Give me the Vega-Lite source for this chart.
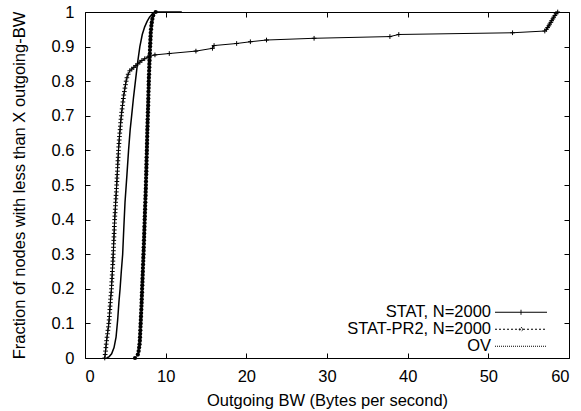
{
  "$schema": "https://vega.github.io/schema/vega-lite/v6.json",
  "width": 484,
  "height": 346,
  "autosize": "none",
  "padding": {"left": 85, "top": 12, "right": 12, "bottom": 53},
  "background": "white",
  "config": {
    "font": "Liberation Sans",
    "view": {"stroke": "black", "strokeWidth": 1},
    "axis": {"grid": false, "domain": false, "tickColor": "black", "tickSize": -5, "labelColor": "black", "labelFontSize": 16.5, "titleFontSize": 16.5, "titleFontWeight": "normal", "titleColor": "black", "labelFont": "Liberation Sans", "titleFont": "Liberation Sans"}
  },
  "datasets": {
    "cdf": [
      {"series": "OV", "bw": 2.7, "frac": 0},
      {"series": "OV", "bw": 3.0, "frac": 0.004},
      {"series": "OV", "bw": 3.3, "frac": 0.012},
      {"series": "OV", "bw": 3.6, "frac": 0.03},
      {"series": "OV", "bw": 3.85, "frac": 0.06},
      {"series": "OV", "bw": 4.05, "frac": 0.11},
      {"series": "OV", "bw": 4.2, "frac": 0.16},
      {"series": "OV", "bw": 4.35, "frac": 0.2},
      {"series": "OV", "bw": 4.5, "frac": 0.25},
      {"series": "OV", "bw": 4.67, "frac": 0.3},
      {"series": "OV", "bw": 4.8, "frac": 0.37},
      {"series": "OV", "bw": 4.96, "frac": 0.45},
      {"series": "OV", "bw": 5.2, "frac": 0.53},
      {"series": "OV", "bw": 5.4, "frac": 0.6},
      {"series": "OV", "bw": 5.6, "frac": 0.66},
      {"series": "OV", "bw": 5.78, "frac": 0.7},
      {"series": "OV", "bw": 6.0, "frac": 0.75},
      {"series": "OV", "bw": 6.2, "frac": 0.79},
      {"series": "OV", "bw": 6.5, "frac": 0.85},
      {"series": "OV", "bw": 6.8, "frac": 0.9},
      {"series": "OV", "bw": 7.1, "frac": 0.935},
      {"series": "OV", "bw": 7.4, "frac": 0.957},
      {"series": "OV", "bw": 7.7, "frac": 0.973},
      {"series": "OV", "bw": 8.0, "frac": 0.985},
      {"series": "OV", "bw": 8.35, "frac": 0.995},
      {"series": "OV", "bw": 8.7, "frac": 1.0},
      {"series": "OV", "bw": 12.0, "frac": 1.0},

      {"series": "STAT, N=2000", "bw": 2.45, "frac": 0.0},
      {"series": "STAT, N=2000", "bw": 2.50, "frac": 0.01},
      {"series": "STAT, N=2000", "bw": 2.55, "frac": 0.02},
      {"series": "STAT, N=2000", "bw": 2.59, "frac": 0.03},
      {"series": "STAT, N=2000", "bw": 2.63, "frac": 0.04},
      {"series": "STAT, N=2000", "bw": 2.68, "frac": 0.05},
      {"series": "STAT, N=2000", "bw": 2.73, "frac": 0.06},
      {"series": "STAT, N=2000", "bw": 2.79, "frac": 0.07},
      {"series": "STAT, N=2000", "bw": 2.84, "frac": 0.08},
      {"series": "STAT, N=2000", "bw": 2.90, "frac": 0.09},
      {"series": "STAT, N=2000", "bw": 2.95, "frac": 0.10},
      {"series": "STAT, N=2000", "bw": 2.99, "frac": 0.11},
      {"series": "STAT, N=2000", "bw": 3.02, "frac": 0.12},
      {"series": "STAT, N=2000", "bw": 3.05, "frac": 0.13},
      {"series": "STAT, N=2000", "bw": 3.08, "frac": 0.14},
      {"series": "STAT, N=2000", "bw": 3.11, "frac": 0.15},
      {"series": "STAT, N=2000", "bw": 3.14, "frac": 0.16},
      {"series": "STAT, N=2000", "bw": 3.17, "frac": 0.17},
      {"series": "STAT, N=2000", "bw": 3.21, "frac": 0.18},
      {"series": "STAT, N=2000", "bw": 3.25, "frac": 0.19},
      {"series": "STAT, N=2000", "bw": 3.28, "frac": 0.20},
      {"series": "STAT, N=2000", "bw": 3.30, "frac": 0.21},
      {"series": "STAT, N=2000", "bw": 3.32, "frac": 0.22},
      {"series": "STAT, N=2000", "bw": 3.35, "frac": 0.23},
      {"series": "STAT, N=2000", "bw": 3.37, "frac": 0.24},
      {"series": "STAT, N=2000", "bw": 3.39, "frac": 0.25},
      {"series": "STAT, N=2000", "bw": 3.41, "frac": 0.26},
      {"series": "STAT, N=2000", "bw": 3.44, "frac": 0.27},
      {"series": "STAT, N=2000", "bw": 3.46, "frac": 0.28},
      {"series": "STAT, N=2000", "bw": 3.48, "frac": 0.29},
      {"series": "STAT, N=2000", "bw": 3.50, "frac": 0.30},
      {"series": "STAT, N=2000", "bw": 3.52, "frac": 0.31},
      {"series": "STAT, N=2000", "bw": 3.54, "frac": 0.32},
      {"series": "STAT, N=2000", "bw": 3.55, "frac": 0.33},
      {"series": "STAT, N=2000", "bw": 3.57, "frac": 0.34},
      {"series": "STAT, N=2000", "bw": 3.59, "frac": 0.35},
      {"series": "STAT, N=2000", "bw": 3.61, "frac": 0.36},
      {"series": "STAT, N=2000", "bw": 3.63, "frac": 0.37},
      {"series": "STAT, N=2000", "bw": 3.64, "frac": 0.38},
      {"series": "STAT, N=2000", "bw": 3.66, "frac": 0.39},
      {"series": "STAT, N=2000", "bw": 3.68, "frac": 0.40},
      {"series": "STAT, N=2000", "bw": 3.70, "frac": 0.41},
      {"series": "STAT, N=2000", "bw": 3.73, "frac": 0.42},
      {"series": "STAT, N=2000", "bw": 3.75, "frac": 0.43},
      {"series": "STAT, N=2000", "bw": 3.78, "frac": 0.44},
      {"series": "STAT, N=2000", "bw": 3.80, "frac": 0.45},
      {"series": "STAT, N=2000", "bw": 3.83, "frac": 0.46},
      {"series": "STAT, N=2000", "bw": 3.85, "frac": 0.47},
      {"series": "STAT, N=2000", "bw": 3.88, "frac": 0.48},
      {"series": "STAT, N=2000", "bw": 3.90, "frac": 0.49},
      {"series": "STAT, N=2000", "bw": 3.93, "frac": 0.50},
      {"series": "STAT, N=2000", "bw": 3.95, "frac": 0.51},
      {"series": "STAT, N=2000", "bw": 3.97, "frac": 0.52},
      {"series": "STAT, N=2000", "bw": 3.99, "frac": 0.53},
      {"series": "STAT, N=2000", "bw": 4.02, "frac": 0.54},
      {"series": "STAT, N=2000", "bw": 4.04, "frac": 0.55},
      {"series": "STAT, N=2000", "bw": 4.06, "frac": 0.56},
      {"series": "STAT, N=2000", "bw": 4.08, "frac": 0.57},
      {"series": "STAT, N=2000", "bw": 4.11, "frac": 0.58},
      {"series": "STAT, N=2000", "bw": 4.13, "frac": 0.59},
      {"series": "STAT, N=2000", "bw": 4.15, "frac": 0.60},
      {"series": "STAT, N=2000", "bw": 4.18, "frac": 0.61},
      {"series": "STAT, N=2000", "bw": 4.21, "frac": 0.62},
      {"series": "STAT, N=2000", "bw": 4.24, "frac": 0.63},
      {"series": "STAT, N=2000", "bw": 4.27, "frac": 0.64},
      {"series": "STAT, N=2000", "bw": 4.31, "frac": 0.65},
      {"series": "STAT, N=2000", "bw": 4.35, "frac": 0.66},
      {"series": "STAT, N=2000", "bw": 4.38, "frac": 0.67},
      {"series": "STAT, N=2000", "bw": 4.42, "frac": 0.68},
      {"series": "STAT, N=2000", "bw": 4.46, "frac": 0.69},
      {"series": "STAT, N=2000", "bw": 4.50, "frac": 0.70},
      {"series": "STAT, N=2000", "bw": 4.55, "frac": 0.71},
      {"series": "STAT, N=2000", "bw": 4.60, "frac": 0.72},
      {"series": "STAT, N=2000", "bw": 4.65, "frac": 0.73},
      {"series": "STAT, N=2000", "bw": 4.70, "frac": 0.74},
      {"series": "STAT, N=2000", "bw": 4.75, "frac": 0.75},
      {"series": "STAT, N=2000", "bw": 4.81, "frac": 0.76},
      {"series": "STAT, N=2000", "bw": 4.88, "frac": 0.77},
      {"series": "STAT, N=2000", "bw": 4.95, "frac": 0.78},
      {"series": "STAT, N=2000", "bw": 5.02, "frac": 0.79},
      {"series": "STAT, N=2000", "bw": 5.10, "frac": 0.80},
      {"series": "STAT, N=2000", "bw": 5.20, "frac": 0.81},
      {"series": "STAT, N=2000", "bw": 5.35, "frac": 0.82},
      {"series": "STAT, N=2000", "bw": 5.55, "frac": 0.83},
      {"series": "STAT, N=2000", "bw": 5.80, "frac": 0.835},
      {"series": "STAT, N=2000", "bw": 6.05, "frac": 0.84},
      {"series": "STAT, N=2000", "bw": 6.30, "frac": 0.845},
      {"series": "STAT, N=2000", "bw": 6.55, "frac": 0.85},
      {"series": "STAT, N=2000", "bw": 6.80, "frac": 0.855},
      {"series": "STAT, N=2000", "bw": 7.05, "frac": 0.86},
      {"series": "STAT, N=2000", "bw": 7.40, "frac": 0.865},
      {"series": "STAT, N=2000", "bw": 7.80, "frac": 0.87},
      {"series": "STAT, N=2000", "bw": 8.67, "frac": 0.876},
      {"series": "STAT, N=2000", "bw": 10.45, "frac": 0.88},
      {"series": "STAT, N=2000", "bw": 13.75, "frac": 0.887},
      {"series": "STAT, N=2000", "bw": 15.8, "frac": 0.895},
      {"series": "STAT, N=2000", "bw": 16.0, "frac": 0.903},
      {"series": "STAT, N=2000", "bw": 18.8, "frac": 0.909},
      {"series": "STAT, N=2000", "bw": 20.5, "frac": 0.914},
      {"series": "STAT, N=2000", "bw": 22.5, "frac": 0.919},
      {"series": "STAT, N=2000", "bw": 28.4, "frac": 0.924},
      {"series": "STAT, N=2000", "bw": 37.8, "frac": 0.929},
      {"series": "STAT, N=2000", "bw": 38.9, "frac": 0.935},
      {"series": "STAT, N=2000", "bw": 53.0, "frac": 0.94},
      {"series": "STAT, N=2000", "bw": 57.0, "frac": 0.945},
      {"series": "STAT, N=2000", "bw": 57.2, "frac": 0.95},
      {"series": "STAT, N=2000", "bw": 57.35, "frac": 0.955},
      {"series": "STAT, N=2000", "bw": 57.5, "frac": 0.96},
      {"series": "STAT, N=2000", "bw": 57.6, "frac": 0.965},
      {"series": "STAT, N=2000", "bw": 57.75, "frac": 0.97},
      {"series": "STAT, N=2000", "bw": 57.85, "frac": 0.975},
      {"series": "STAT, N=2000", "bw": 58.0, "frac": 0.98},
      {"series": "STAT, N=2000", "bw": 58.1, "frac": 0.985},
      {"series": "STAT, N=2000", "bw": 58.25, "frac": 0.99},
      {"series": "STAT, N=2000", "bw": 58.4, "frac": 0.995},
      {"series": "STAT, N=2000", "bw": 58.6, "frac": 1.0},

      {"series": "STAT-PR2, N=2000", "bw": 6.20, "frac": 0.0},
      {"series": "STAT-PR2, N=2000", "bw": 6.55, "frac": 0.01},
      {"series": "STAT-PR2, N=2000", "bw": 6.65, "frac": 0.02},
      {"series": "STAT-PR2, N=2000", "bw": 6.71, "frac": 0.03},
      {"series": "STAT-PR2, N=2000", "bw": 6.76, "frac": 0.04},
      {"series": "STAT-PR2, N=2000", "bw": 6.80, "frac": 0.05},
      {"series": "STAT-PR2, N=2000", "bw": 6.82, "frac": 0.06},
      {"series": "STAT-PR2, N=2000", "bw": 6.84, "frac": 0.07},
      {"series": "STAT-PR2, N=2000", "bw": 6.86, "frac": 0.08},
      {"series": "STAT-PR2, N=2000", "bw": 6.88, "frac": 0.09},
      {"series": "STAT-PR2, N=2000", "bw": 6.90, "frac": 0.10},
      {"series": "STAT-PR2, N=2000", "bw": 6.92, "frac": 0.11},
      {"series": "STAT-PR2, N=2000", "bw": 6.94, "frac": 0.12},
      {"series": "STAT-PR2, N=2000", "bw": 6.96, "frac": 0.13},
      {"series": "STAT-PR2, N=2000", "bw": 6.98, "frac": 0.14},
      {"series": "STAT-PR2, N=2000", "bw": 7.00, "frac": 0.15},
      {"series": "STAT-PR2, N=2000", "bw": 7.02, "frac": 0.16},
      {"series": "STAT-PR2, N=2000", "bw": 7.03, "frac": 0.17},
      {"series": "STAT-PR2, N=2000", "bw": 7.05, "frac": 0.18},
      {"series": "STAT-PR2, N=2000", "bw": 7.07, "frac": 0.19},
      {"series": "STAT-PR2, N=2000", "bw": 7.08, "frac": 0.20},
      {"series": "STAT-PR2, N=2000", "bw": 7.10, "frac": 0.21},
      {"series": "STAT-PR2, N=2000", "bw": 7.12, "frac": 0.22},
      {"series": "STAT-PR2, N=2000", "bw": 7.13, "frac": 0.23},
      {"series": "STAT-PR2, N=2000", "bw": 7.15, "frac": 0.24},
      {"series": "STAT-PR2, N=2000", "bw": 7.17, "frac": 0.25},
      {"series": "STAT-PR2, N=2000", "bw": 7.18, "frac": 0.26},
      {"series": "STAT-PR2, N=2000", "bw": 7.20, "frac": 0.27},
      {"series": "STAT-PR2, N=2000", "bw": 7.22, "frac": 0.28},
      {"series": "STAT-PR2, N=2000", "bw": 7.23, "frac": 0.29},
      {"series": "STAT-PR2, N=2000", "bw": 7.25, "frac": 0.30},
      {"series": "STAT-PR2, N=2000", "bw": 7.27, "frac": 0.31},
      {"series": "STAT-PR2, N=2000", "bw": 7.28, "frac": 0.32},
      {"series": "STAT-PR2, N=2000", "bw": 7.30, "frac": 0.33},
      {"series": "STAT-PR2, N=2000", "bw": 7.31, "frac": 0.34},
      {"series": "STAT-PR2, N=2000", "bw": 7.33, "frac": 0.35},
      {"series": "STAT-PR2, N=2000", "bw": 7.34, "frac": 0.36},
      {"series": "STAT-PR2, N=2000", "bw": 7.36, "frac": 0.37},
      {"series": "STAT-PR2, N=2000", "bw": 7.37, "frac": 0.38},
      {"series": "STAT-PR2, N=2000", "bw": 7.39, "frac": 0.39},
      {"series": "STAT-PR2, N=2000", "bw": 7.40, "frac": 0.40},
      {"series": "STAT-PR2, N=2000", "bw": 7.42, "frac": 0.41},
      {"series": "STAT-PR2, N=2000", "bw": 7.43, "frac": 0.42},
      {"series": "STAT-PR2, N=2000", "bw": 7.45, "frac": 0.43},
      {"series": "STAT-PR2, N=2000", "bw": 7.46, "frac": 0.44},
      {"series": "STAT-PR2, N=2000", "bw": 7.48, "frac": 0.45},
      {"series": "STAT-PR2, N=2000", "bw": 7.49, "frac": 0.46},
      {"series": "STAT-PR2, N=2000", "bw": 7.51, "frac": 0.47},
      {"series": "STAT-PR2, N=2000", "bw": 7.52, "frac": 0.48},
      {"series": "STAT-PR2, N=2000", "bw": 7.54, "frac": 0.49},
      {"series": "STAT-PR2, N=2000", "bw": 7.55, "frac": 0.50},
      {"series": "STAT-PR2, N=2000", "bw": 7.56, "frac": 0.51},
      {"series": "STAT-PR2, N=2000", "bw": 7.57, "frac": 0.52},
      {"series": "STAT-PR2, N=2000", "bw": 7.59, "frac": 0.53},
      {"series": "STAT-PR2, N=2000", "bw": 7.60, "frac": 0.54},
      {"series": "STAT-PR2, N=2000", "bw": 7.61, "frac": 0.55},
      {"series": "STAT-PR2, N=2000", "bw": 7.62, "frac": 0.56},
      {"series": "STAT-PR2, N=2000", "bw": 7.63, "frac": 0.57},
      {"series": "STAT-PR2, N=2000", "bw": 7.64, "frac": 0.58},
      {"series": "STAT-PR2, N=2000", "bw": 7.66, "frac": 0.59},
      {"series": "STAT-PR2, N=2000", "bw": 7.67, "frac": 0.60},
      {"series": "STAT-PR2, N=2000", "bw": 7.68, "frac": 0.61},
      {"series": "STAT-PR2, N=2000", "bw": 7.69, "frac": 0.62},
      {"series": "STAT-PR2, N=2000", "bw": 7.70, "frac": 0.63},
      {"series": "STAT-PR2, N=2000", "bw": 7.71, "frac": 0.64},
      {"series": "STAT-PR2, N=2000", "bw": 7.72, "frac": 0.65},
      {"series": "STAT-PR2, N=2000", "bw": 7.73, "frac": 0.66},
      {"series": "STAT-PR2, N=2000", "bw": 7.75, "frac": 0.67},
      {"series": "STAT-PR2, N=2000", "bw": 7.76, "frac": 0.68},
      {"series": "STAT-PR2, N=2000", "bw": 7.77, "frac": 0.69},
      {"series": "STAT-PR2, N=2000", "bw": 7.79, "frac": 0.70},
      {"series": "STAT-PR2, N=2000", "bw": 7.80, "frac": 0.71},
      {"series": "STAT-PR2, N=2000", "bw": 7.81, "frac": 0.72},
      {"series": "STAT-PR2, N=2000", "bw": 7.83, "frac": 0.73},
      {"series": "STAT-PR2, N=2000", "bw": 7.84, "frac": 0.74},
      {"series": "STAT-PR2, N=2000", "bw": 7.85, "frac": 0.75},
      {"series": "STAT-PR2, N=2000", "bw": 7.86, "frac": 0.76},
      {"series": "STAT-PR2, N=2000", "bw": 7.87, "frac": 0.77},
      {"series": "STAT-PR2, N=2000", "bw": 7.89, "frac": 0.78},
      {"series": "STAT-PR2, N=2000", "bw": 7.90, "frac": 0.79},
      {"series": "STAT-PR2, N=2000", "bw": 7.91, "frac": 0.80},
      {"series": "STAT-PR2, N=2000", "bw": 7.92, "frac": 0.81},
      {"series": "STAT-PR2, N=2000", "bw": 7.94, "frac": 0.82},
      {"series": "STAT-PR2, N=2000", "bw": 7.95, "frac": 0.83},
      {"series": "STAT-PR2, N=2000", "bw": 7.97, "frac": 0.84},
      {"series": "STAT-PR2, N=2000", "bw": 7.98, "frac": 0.85},
      {"series": "STAT-PR2, N=2000", "bw": 8.00, "frac": 0.86},
      {"series": "STAT-PR2, N=2000", "bw": 8.02, "frac": 0.87},
      {"series": "STAT-PR2, N=2000", "bw": 8.04, "frac": 0.88},
      {"series": "STAT-PR2, N=2000", "bw": 8.05, "frac": 0.89},
      {"series": "STAT-PR2, N=2000", "bw": 8.07, "frac": 0.90},
      {"series": "STAT-PR2, N=2000", "bw": 8.09, "frac": 0.91},
      {"series": "STAT-PR2, N=2000", "bw": 8.11, "frac": 0.92},
      {"series": "STAT-PR2, N=2000", "bw": 8.13, "frac": 0.93},
      {"series": "STAT-PR2, N=2000", "bw": 8.15, "frac": 0.94},
      {"series": "STAT-PR2, N=2000", "bw": 8.19, "frac": 0.95},
      {"series": "STAT-PR2, N=2000", "bw": 8.23, "frac": 0.96},
      {"series": "STAT-PR2, N=2000", "bw": 8.28, "frac": 0.97},
      {"series": "STAT-PR2, N=2000", "bw": 8.35, "frac": 0.98},
      {"series": "STAT-PR2, N=2000", "bw": 8.45, "frac": 0.99},
      {"series": "STAT-PR2, N=2000", "bw": 8.76, "frac": 1.0}
    ]
  },
  "data": {"name": "cdf"},
  "layer": [
    {
      "transform": [{"filter": "datum.series === 'OV'"}],
      "mark": {"type": "line", "strokeWidth": 1.5, "color": "black"},
      "encoding": {
        "x": {"field": "bw", "type": "quantitative", "scale": {"domain": [0, 60], "nice": false, "zero": false},
              "axis": {"orient": "bottom", "values": [0, 10, 20, 30, 40, 50, 60], "labelPadding": 15, "title": "Outgoing BW (Bytes per second)", "titlePadding": 8}},
        "y": {"field": "frac", "type": "quantitative", "scale": {"domain": [0, 1], "nice": false},
              "axis": {"orient": "left", "values": [0, 0.1, 0.2, 0.3, 0.4, 0.5, 0.6, 0.7, 0.8, 0.9, 1], "format": ".1~f", "labelPadding": 16, "title": "Fraction of nodes with less than X outgoing-BW", "titlePadding": 24}}
      }
    },
    {
      "transform": [{"filter": "false"}],
      "mark": {"type": "point", "filled": false, "color": "black", "opacity": 1},
      "encoding": {
        "x": {"field": "bw", "type": "quantitative", "axis": null},
        "y": {"field": "frac", "type": "quantitative", "axis": null},
        "shape": {"field": "series", "type": "nominal",
                  "scale": {"domain": ["STAT, N=2000", "STAT-PR2, N=2000", "OV"],
                            "range": ["M-5.2,0L5.2,0M0,-0.5L0,0.5", "M-5.2,0L5.2,0M0.35,0A0.35,0.35 0 1 1 -0.35,0A0.35,0.35 0 1 1 0.35,0Z", "M-5.2,0L5.2,0"]},
                  "legend": {"title": null, "orient": "none", "legendX": 410, "legendY": 292, "symbolSize": 100, "symbolOffset": 17.75, "labelAlign": "right", "labelOffset": -38.25, "labelFontSize": 16.5, "labelColor": "black", "labelFont": "Liberation Sans", "rowPadding": -3, "padding": 0, "symbolStrokeColor": "black", "symbolFillColor": "black", "symbolStrokeWidth": 1, "symbolOpacity": 1,
                             "encode": {"symbols": {"update": {"fill": {"value": "black"}, "stroke": {"value": "black"}, "opacity": {"value": 1}}}}}},
        "strokeDash": {"field": "series", "type": "nominal",
                  "scale": {"domain": ["STAT, N=2000", "STAT-PR2, N=2000", "OV"], "range": [[1, 0], [2, 2], [1, 1]]},
                  "legend": {"title": null, "orient": "none", "legendX": 410, "legendY": 292, "symbolSize": 100, "symbolOffset": 17.75, "labelAlign": "right", "labelOffset": -38.25, "labelFontSize": 16.5, "labelColor": "black", "labelFont": "Liberation Sans", "rowPadding": -3, "padding": 0, "symbolStrokeColor": "black", "symbolFillColor": "black", "symbolStrokeWidth": 1, "symbolOpacity": 1,
                             "encode": {"symbols": {"update": {"fill": {"value": "black"}, "stroke": {"value": "black"}, "opacity": {"value": 1}}}}}}
      }
    },
    {
      "transform": [{"filter": "datum.series === 'STAT, N=2000'"}],
      "mark": {"type": "line", "strokeWidth": 1, "color": "black"},
      "encoding": {
        "x": {"field": "bw", "type": "quantitative", "axis": {"orient": "top", "values": [0, 10, 20, 30, 40, 50, 60], "labels": false, "title": null}},
        "y": {"field": "frac", "type": "quantitative", "axis": {"orient": "right", "values": [0, 0.1, 0.2, 0.3, 0.4, 0.5, 0.6, 0.7, 0.8, 0.9, 1], "labels": false, "title": null}}
      }
    },
    {
      "transform": [{"filter": "datum.series === 'STAT, N=2000'"}],
      "mark": {"type": "point", "shape": "M-1,0H1M0,-1V1", "filled": false, "size": 22, "stroke": "black", "strokeWidth": 1, "opacity": 1},
      "encoding": {
        "x": {"field": "bw", "type": "quantitative", "axis": null},
        "y": {"field": "frac", "type": "quantitative", "axis": null}
      }
    },
    {
      "transform": [{"filter": "datum.series === 'STAT-PR2, N=2000'"}],
      "mark": {"type": "line", "strokeWidth": 1, "color": "black", "strokeDash": [2, 2]},
      "encoding": {
        "x": {"field": "bw", "type": "quantitative", "axis": null},
        "y": {"field": "frac", "type": "quantitative", "axis": null}
      }
    },
    {
      "transform": [{"filter": "datum.series === 'STAT-PR2, N=2000'"}],
      "mark": {"type": "point", "shape": "circle", "filled": true, "size": 18, "color": "black", "opacity": 1},
      "encoding": {
        "x": {"field": "bw", "type": "quantitative", "axis": null},
        "y": {"field": "frac", "type": "quantitative", "axis": null}
      }
    }
  ]
}
